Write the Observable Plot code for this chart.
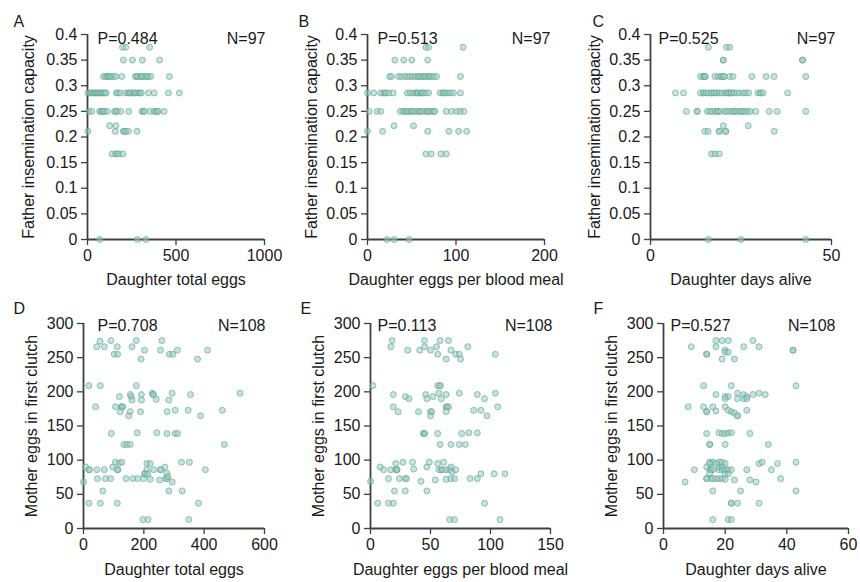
<!DOCTYPE html>
<html><head><meta charset="utf-8">
<script src="https://cdn.jsdelivr.net/npm/d3@7"></script>
<script src="https://cdn.jsdelivr.net/npm/@observablehq/plot@0.6"></script>
<style>
body{margin:0;background:#fff;}
#chart{position:relative;width:860px;height:582px;font-family:"Liberation Sans",Arial,sans-serif;}
#chart svg{position:absolute;max-width:none;overflow:visible;background:transparent;}
</style></head><body><div id="chart"></div>
<script>
// ---- labels ----
const panelLetters = ["A","B","C","D","E","F"];
const xTitles = ["Daughter total eggs","Daughter eggs per blood meal","Daughter days alive",
                 "Daughter total eggs","Daughter eggs per blood meal","Daughter days alive"];
const yTitles = ["Father insemination capacity","Father insemination capacity","Father insemination capacity",
                 "Mother eggs in first clutch","Mother eggs in first clutch","Mother eggs in first clutch"];
const pLabels = ["P=0.484","P=0.513","P=0.525","P=0.708","P=0.113","P=0.527"];
const nLabels = ["N=97","N=97","N=97","N=108","N=108","N=108"];
const xDomains = [[0,1000],[0,200],[0,50],[0,600],[0,150],[0,60]];
const xTickValues = [[0,500,1000],[0,100,200],[0,50],[0,200,400,600],[0,50,100,150],[0,20,40,60]];
const yDomainTop = [0,0.4];
const yTicksTop = [0,0.05,0.1,0.15,0.2,0.25,0.3,0.35,0.4];
const yDomainBottom = [0,300];
const yTicksBottom = [0,50,100,150,200,250,300];

// ---- data: [x, y] ----
const dataA = [
[198,0.375],[216,0.375],[351,0.375],
[203,0.35],[254,0.35],[310,0.35],[407,0.35],
[90,0.318],[103,0.318],[110,0.318],[118,0.318],[125,0.318],[131,0.318],[146,0.318],[160,0.318],[194,0.318],[271,0.318],[278,0.318],[284,0.318],[299,0.318],[306,0.318],[313,0.318],[328,0.318],[335,0.318],[343,0.318],[358,0.318],[463,0.318],
[2,0.286],[15,0.286],[22,0.286],[30,0.286],[38,0.286],[45,0.286],[52,0.286],[60,0.286],[68,0.286],[75,0.286],[82,0.286],[90,0.286],[98,0.286],[105,0.286],[164,0.286],[170,0.286],[183,0.286],[215,0.286],[230,0.286],[237,0.286],[244,0.286],[259,0.286],[266,0.286],[274,0.286],[289,0.286],[296,0.286],[304,0.286],[345,0.286],[377,0.286],[457,0.286],[519,0.286],
[10,0.25],[24,0.25],[69,0.25],[76,0.25],[82,0.25],[90,0.25],[97,0.25],[112,0.25],[153,0.25],[160,0.25],[168,0.25],[187,0.25],[233,0.25],[308,0.25],[315,0.25],[323,0.25],[355,0.25],[377,0.25],[388,0.25],[394,0.25],[401,0.25],[433,0.25],
[125,0.222],[160,0.222],
[3,0.211],[157,0.211],[202,0.211],[209,0.211],[216,0.211],[231,0.211],[280,0.211],
[140,0.167],[159,0.167],[168,0.167],[177,0.167],[200,0.167],
[69,0],[282,0],[330,0]
];
const dataB = [
[66,0.375],[69,0.375],[108,0.375],
[31,0.35],[41,0.35],[50,0.35],[68,0.35],
[25,0.318],[27,0.318],[35,0.318],[38,0.318],[42,0.318],[45,0.318],[48,0.318],[51,0.318],[54,0.318],[57,0.318],[58,0.318],[60,0.318],[63,0.318],[64,0.318],[66,0.318],[69,0.318],[70,0.318],[72,0.318],[75,0.318],[78,0.318],[105,0.318],
[0,0.286],[7,0.286],[15,0.286],[18,0.286],[20,0.286],[21,0.286],[24,0.286],[29,0.286],[45,0.286],[48,0.286],[51,0.286],[54,0.286],[56,0.286],[57,0.286],[60,0.286],[62,0.286],[63,0.286],[66,0.286],[69,0.286],[82,0.286],[85,0.286],[86,0.286],[88,0.286],[91,0.286],[94,0.286],[97,0.286],[105,0.286],
[2,0.25],[11,0.25],[15,0.25],[37,0.25],[40,0.25],[43,0.25],[44,0.25],[46,0.25],[49,0.25],[50,0.25],[52,0.25],[55,0.25],[58,0.25],[59,0.25],[61,0.25],[64,0.25],[67,0.25],[68,0.25],[70,0.25],[73,0.25],[75,0.25],[76,0.25],[89,0.25],[95,0.25],[101,0.25],[105,0.25],[109,0.25],
[30,0.222],[52,0.222],
[0,0.211],[17,0.211],[68,0.211],[92,0.211],[103,0.211],[112,0.211],
[66,0.167],[72,0.167],[83,0.167],[89,0.167],
[22,0],[30,0],[47,0]
];
const dataC = [
[16.0,0.375],[21.0,0.375],[21.9,0.375],
[20.1,0.35],[20.1,0.35],[42.0,0.35],[42.0,0.35],
[13.8,0.318],[14.6,0.318],[14.6,0.318],[15.1,0.318],[15.1,0.318],[17.8,0.318],[18.7,0.318],[19.6,0.318],[19.6,0.318],[20.3,0.318],[20.3,0.318],[21.9,0.318],[22.8,0.318],[28.0,0.318],[31.9,0.318],[34.1,0.318],[42.9,0.318],
[6.9,0.286],[9.1,0.286],[13.8,0.286],[14.6,0.286],[14.6,0.286],[15.3,0.286],[16.0,0.286],[16.8,0.286],[16.8,0.286],[17.5,0.286],[18.2,0.286],[18.2,0.286],[19.0,0.286],[19.7,0.286],[20.8,0.286],[20.8,0.286],[21.6,0.286],[21.6,0.286],[22.3,0.286],[22.3,0.286],[23.0,0.286],[23.8,0.286],[24.5,0.286],[25.6,0.286],[26.3,0.286],[27.1,0.286],[29.7,0.286],[30.4,0.286],[30.4,0.286],[31.1,0.286],[37.9,0.286],
[9.9,0.25],[12.9,0.25],[12.9,0.25],[15.7,0.25],[16.4,0.25],[17.1,0.25],[17.9,0.25],[18.6,0.25],[18.6,0.25],[19.3,0.25],[20.5,0.25],[21.0,0.25],[21.7,0.25],[22.5,0.25],[23.2,0.25],[23.2,0.25],[23.9,0.25],[24.7,0.25],[25.4,0.25],[25.4,0.25],[26.2,0.25],[26.9,0.25],[27.6,0.25],[29.1,0.25],[32.8,0.25],[35.0,0.25],[42.9,0.25],
[20.1,0.222],[27.0,0.222],
[15.0,0.211],[15.9,0.211],[19.0,0.211],[19.0,0.211],[20.8,0.211],[20.8,0.211],[34.2,0.211],
[16.9,0.167],[17.8,0.167],[19.0,0.167],
[16.0,0],[25.0,0],[42.9,0]
];
const dataD = [
[55,274],[91,275],[175,275],[260,275],[44,266],[69,266],[112,266],[161,266],
[102,255],[113,255],[202,261],[255,261],[285,255],[296,255],[311,261],[191,248],[378,248],[411,261],
[18,209],[56,209],[175,209],
[119,193],[155,196],[158,193],[192,196],[228,198],[230,196],[232,196],[294,198],[355,196],[519,198],
[40,178],[106,178],[125,178],[128,178],[130,178],[161,188],[192,188],[241,189],[283,188],
[122,171],[155,171],[189,171],[277,171],[304,173],[347,173],[460,173],[150,165],[388,165],
[92,139],[178,140],[243,140],[277,139],[304,139],[312,139],
[134,123],[144,123],[155,123],[467,123],
[7,90],[18,86],[20,86],[44,86],[69,86],[97,90],[106,97],[112,86],[114,86],[119,96],[127,97],[210,95],[221,95],[210,86],[233,86],[255,86],[256,86],[270,90],[276,81],[325,97],[351,97],[404,86],
[0,68],[46,73],[73,73],[90,73],[141,73],[164,73],[180,73],[199,73],[221,72],[252,71],[272,73],[277,73],[280,76],[294,68],[202,80],[205,80],[213,80],
[64,55],[283,55],[327,55],
[18,37],[56,37],[112,37],[381,37],
[197,13],[214,13],[349,13]
];
const dataE = [
[17,266],[18,275],[31,261],[41,261],[45,275],[45,266],[50,261],[55,266],[56,255],[58,275],[65,275],[67,261],[71,255],[74,255],[63,248],[75,248],[81,266],[104,255],
[2,209],[56,209],[58,209],[58,209],
[19,196],[46,196],[63,196],[89,196],[57,198],[74,198],[104,198],[29,193],[52,193],[32,190],[47,190],[59,190],[95,190],
[19,178],[63,178],[64,178],[65,178],[106,178],
[23,171],[40,171],[50,171],[51,171],[63,171],[86,173],[92,173],[50,165],[97,165],
[44,139],[45,139],[45,139],[56,139],[76,139],[82,140],[89,140],
[58,123],[67,123],[74,123],[79,123],
[8,90],[11,86],[17,86],[21,95],[21,86],[22,86],[22,86],[27,97],[35,97],[36,87],[47,90],[49,97],[56,95],[57,86],[59,86],[60,86],[61,97],[63,86],[66,86],[67,90],[68,83],[71,86],[0,69],
[15,73],[24,73],[29,73],[30,73],[42,69],[54,71],[63,72],[67,73],[70,73],[83,73],[89,73],[92,80],[103,80],[112,80],
[20,55],[29,55],[47,55],
[6,37],[15,37],[19,37],[95,37],
[66,13],[70,13],[108,13]
];
const dataF = [
[9,266],[17,275],[19,275],[21,275],[29,275],[17,266],[20,261],[20,258],[21,258],[26,266],[31,266],[14,255],[14,255],[19,248],[23,248],[42,261],[42,261],
[13,209],[22,209],[43,209],
[17,196],[20,193],[21,193],[20,190],[24,198],[26,196],[27,193],[29,196],[31,198],[33,196],[24,190],[26,190],[27,190],
[8,178],[13,178],[16,178],[20,178],
[14,171],[14,171],[17,172],[21,173],[22,171],[23,169],[24,165],[24,165],[27,173],
[14,139],[18,140],[19,139],[20,139],[21,140],[22,140],[28,139],
[15,123],[15,123],[20,123],[34,123],
[15,97],[16,97],[18,97],[19,97],[20,95],[15,95],[17,95],[31,95],[32,97],[37,95],[43,97],
[10,86],[14,90],[15,86],[15.5,86],[16,86],[18,86],[18,90],[19,90],[19,86],[20,86],[21,86],[22,86],[27,86],[35,86],
[15,81],[20,80],[21,80],
[7,68],[14,73],[14,73],[15.5,73],[16,73],[17,73],[18,73],[19,73],[20,72],[23,71],[28,71],[30,68],[38,73],
[16,55],[25,55],[43,55],
[22,37],[22,37],[24,37],[31,37],
[16,13],[21,13],[22,13]
];
const panelData = [dataA, dataB, dataC, dataD, dataE, dataF];

// ---- layout (style only) ----
const layouts = [
 {left:0,   top:0,   width:287, height:291, ml:87, mr:23, mt:34, mb:52, yOff:65, lDx:-74, lDy:-18.5, pDx:10, nDx:1,   tDy:-2, xDy:45},
 {left:285, top:0,   width:290, height:291, ml:82, mr:31, mt:34, mb:52, yOff:62, lDx:-69, lDy:-18.5, pDx:10, nDx:6,   tDy:-2, xDy:45},
 {left:570, top:0,   width:290, height:291, ml:80, mr:29, mt:34, mb:52, yOff:62, lDx:-58, lDy:-18.5, pDx:8,  nDx:4,   tDy:-2, xDy:45},
 {left:0,   top:291, width:287, height:291, ml:83, mr:23, mt:32, mb:54, yOff:58, lDx:-70, lDy:-20.5, pDx:14, nDx:1,   tDy:-4, xDy:46},
 {left:285, top:291, width:290, height:291, ml:85, mr:25, mt:32, mb:54, yOff:58, lDx:-70, lDy:-20.5, pDx:7,  nDx:2,   tDy:-4, xDy:46},
 {left:570, top:291, width:290, height:291, ml:93, mr:12, mt:32, mb:54, yOff:58, lDx:-70, lDy:-20.5, pDx:7,  nDx:-13, tDy:-4, xDy:46}
];

const axisColor = "#404040";
const textColor = "#1a1a1a";
const fmt = d3.format("~g");
const chart = document.getElementById("chart");

panelData.forEach((data, i) => {
  const L = layouts[i];
  const top = i < 3;
  const svg = Plot.plot({
    width: L.width, height: L.height,
    marginLeft: L.ml, marginRight: L.mr, marginTop: L.mt, marginBottom: L.mb,
    style: {fontFamily: '"Liberation Sans", Arial, sans-serif', fontSize: "16px", color: textColor, background: "transparent", overflow: "visible"},
    x: {domain: xDomains[i]},
    y: {domain: top ? yDomainTop : yDomainBottom},
    marks: [
      Plot.axisX({ticks: xTickValues[i], tickSize: 6, tickPadding: 4, tickFormat: fmt, stroke: axisColor, strokeWidth: 1.3, label: null, fontSize: 16}),
      Plot.axisY({ticks: top ? yTicksTop : yTicksBottom, tickSize: 6, tickPadding: 4, tickFormat: fmt, stroke: axisColor, strokeWidth: 1.3, label: null, fontSize: 16}),
      Plot.ruleY([0], {stroke: axisColor, strokeWidth: 1.8}),
      Plot.ruleX([0], {stroke: axisColor, strokeWidth: 1.8}),
      Plot.dot(data, {x: d => d[0], y: d => d[1], r: 3, fill: "#8fd0bf", fillOpacity: 0.55, stroke: "#6a9f92", strokeOpacity: 0.8, strokeWidth: 0.8}),
      Plot.text([pLabels[i]], {frameAnchor: "top-left", textAnchor: "start", dx: L.pDx, dy: L.tDy, fontSize: 16, fill: textColor}),
      Plot.text([nLabels[i]], {frameAnchor: "top-right", textAnchor: "end", dx: L.nDx, dy: L.tDy, fontSize: 16, fill: textColor}),
      Plot.text([panelLetters[i]], {frameAnchor: "top-left", textAnchor: "start", dx: L.lDx, dy: L.lDy, fontSize: 16, fill: textColor}),
      Plot.text([xTitles[i]], {frameAnchor: "bottom", textAnchor: "middle", lineAnchor: "bottom", dy: L.xDy, fontSize: 16, fill: textColor}),
      Plot.text([yTitles[i]], {frameAnchor: "left", textAnchor: "middle", lineAnchor: "top", rotate: -90, dx: -L.yOff, fontSize: 16, fill: textColor})
    ]
  });
  svg.style.left = L.left + "px";
  svg.style.top = L.top + "px";
  chart.appendChild(svg);
});
</script>
</body></html>
